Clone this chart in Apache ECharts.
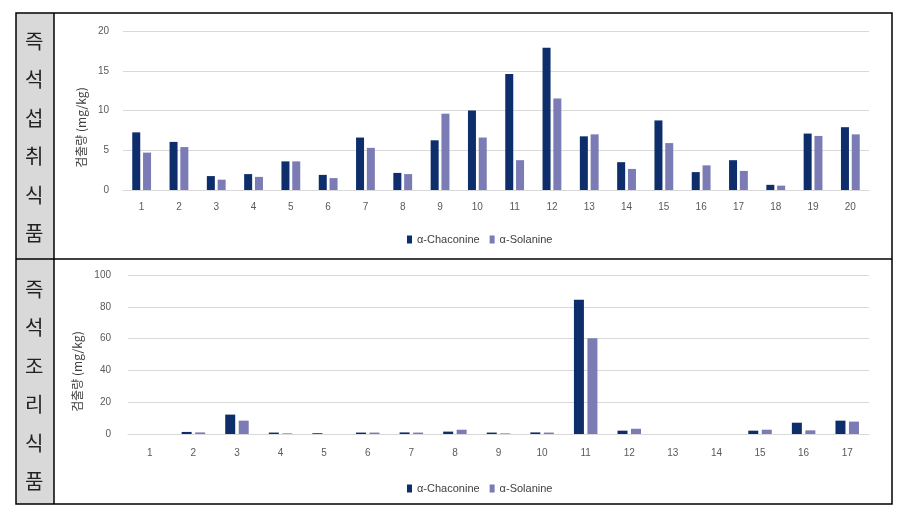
<!DOCTYPE html>
<html>
<head>
<meta charset="utf-8">
<script src="https://cdn.jsdelivr.net/npm/echarts@6/dist/echarts.min.js"></script>
<style>
  html, body { margin: 0; padding: 0; background: #fff; }
  #chart { width: 904px; height: 513px; }
</style>
</head>
<body>
<div id="chart"></div>
<script>
// 즉석섭취식품 (상단)
const readyCats = ['1', '2', '3', '4', '5', '6', '7', '8', '9', '10', '11', '12', '13', '14', '15', '16', '17', '18', '19', '20']
const readyChaconine = [7.25, 6.05, 1.75, 2.0, 3.6, 1.9, 6.6, 2.15, 6.25, 10.0, 14.6, 17.9, 6.75, 3.5, 8.75, 2.25, 3.75, 0.65, 7.1, 7.9]
const readySolanine = [4.7, 5.4, 1.3, 1.65, 3.6, 1.5, 5.3, 2.0, 9.6, 6.6, 3.75, 11.5, 7.0, 2.65, 5.9, 3.1, 2.4, 0.55, 6.8, 7.0]
const readyTicks = [0, 5, 10, 15, 20]

// 즉석조리식품 (하단)
const cookCats = ['1', '2', '3', '4', '5', '6', '7', '8', '9', '10', '11', '12', '13', '14', '15', '16', '17']
const cookChaconine = [0, 1.3, 12.2, 0.9, 0.5, 0.9, 1.0, 1.5, 0.9, 1.0, 84.5, 2.1, 0, 0, 2.1, 7.1, 8.4]
const cookSolanine = [0, 1.0, 8.4, 0.4, 0, 0.9, 0.9, 2.7, 0.4, 0.9, 60.2, 3.3, 0, 0, 2.7, 2.3, 7.8]
const cookTicks = [0, 20, 40, 60, 80, 100]

const seriesNames = ['α-Chaconine', 'α-Solanine']
const colors = ['#0d2e6b', '#7b7bb5']
const yName = '검출량 (mg/kg)'

const chart = echarts.init(document.getElementById('chart'))

const tickFont = {
  color: '#595959',
  fontSize: 10,
  fontFamily: 'Liberation Sans Narrow, Liberation Sans, sans-serif'
}

const makeX = (data, gridIndex, margin) => ({
  type: 'category',
  gridIndex,
  data,
  axisLine: { show: true, lineStyle: { color: '#d9d9d9' } },
  axisTick: { show: false },
  axisLabel: { ...tickFont, margin }
})

const makeY = (ticks, gridIndex, margin, nameGap) => ({
  type: 'value',
  gridIndex,
  min: ticks[0],
  max: ticks[ticks.length - 1],
  interval: ticks[1] - ticks[0],
  name: yName,
  nameLocation: 'middle',
  nameGap,
  nameRotate: 90,
  nameTextStyle: {
    color: '#404040',
    fontSize: 12,
    fontFamily: 'Noto Sans CJK KR',
    padding: [0, 34, 0, 0]
  },
  axisLine: { show: false },
  axisTick: { show: false },
  splitLine: { lineStyle: { color: '#d9d9d9' } },
  axisLabel: { ...tickFont, margin }
})

const makeBar = (name, data, idx, color, barWidth) => ({
  name,
  type: 'bar',
  xAxisIndex: idx,
  yAxisIndex: idx,
  data,
  barWidth,
  barGap: '35%',
  itemStyle: { color }
})

const legendBase = {
  data: seriesNames,
  left: 402,
  itemWidth: 5,
  itemHeight: 8,
  itemGap: 10,
  icon: 'rect',
  textStyle: { color: '#404040', fontSize: 11, fontFamily: 'Liberation Sans Narrow, Liberation Sans, sans-serif' }
}

const sideText = (text, y) => ({
  type: 'text',
  left: 25,
  top: y,
  style: {
    text,
    font: '20px "Noto Sans CJK KR"',
    fill: '#222',
    lineHeight: 38.5
  }
})

const option = {
  animation: false,
  color: colors,
  legend: [
    { ...legendBase, top: 229 },
    { ...legendBase, top: 478 }
  ],
  grid: [
    { left: 123, right: 35, top: 31, height: 159 },
    { left: 128, right: 35, top: 275, height: 159 }
  ],
  xAxis: [makeX(readyCats, 0, 12), makeX(cookCats, 1, 14)],
  yAxis: [makeY(readyTicks, 0, 14, 35), makeY(cookTicks, 1, 17, 39)],
  series: [
    makeBar(seriesNames[0], readyChaconine, 0, colors[0], 8),
    makeBar(seriesNames[1], readySolanine, 0, colors[1], 8),
    makeBar(seriesNames[0], cookChaconine, 1, colors[0], 10),
    makeBar(seriesNames[1], cookSolanine, 1, colors[1], 10)
  ],
  graphic: [
    // 좌측 회색 칸
    { type: 'rect', shape: { x: 16, y: 13, width: 38, height: 491 }, style: { fill: '#d9d9d9' }, z: -1 },
    // 표 테두리
    { type: 'rect', shape: { x: 16, y: 13, width: 876, height: 491 }, style: { fill: 'none', stroke: '#000', lineWidth: 1.5 } },
    { type: 'line', shape: { x1: 54, y1: 13, x2: 54, y2: 504 }, style: { stroke: '#000', lineWidth: 1.5 } },
    { type: 'line', shape: { x1: 16, y1: 259, x2: 892, y2: 259 }, style: { stroke: '#000', lineWidth: 1.5 } },
    sideText('즉\n석\n섭\n취\n식\n품', 22),
    sideText('즉\n석\n조\n리\n식\n품', 270)
  ]
}

chart.setOption(option)
</script>
</body>
</html>
